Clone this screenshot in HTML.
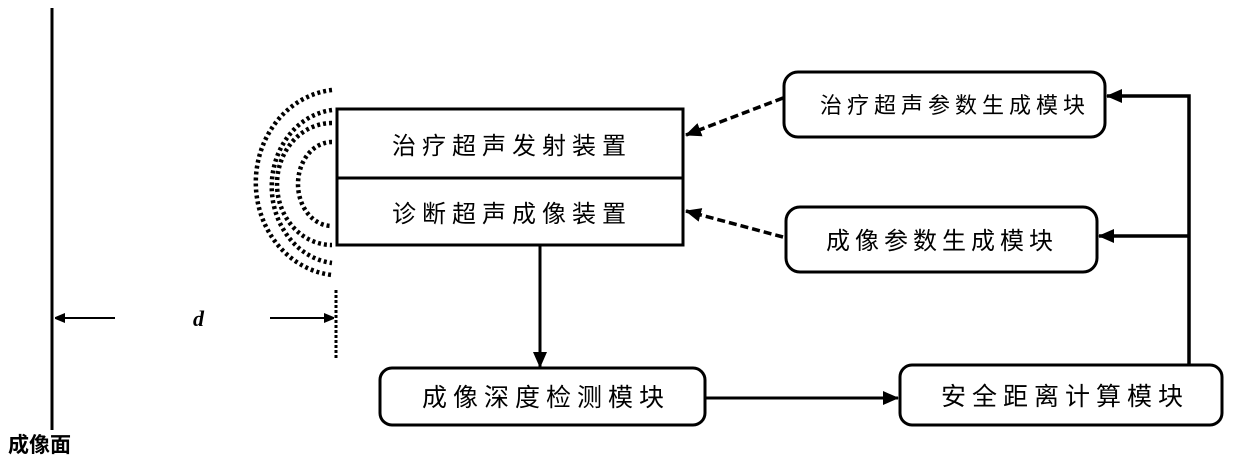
<!DOCTYPE html>
<html><head><meta charset="utf-8"><style>
html,body{margin:0;padding:0;background:#fff;}
svg text{font-family:"Liberation Sans","Noto Sans CJK SC",sans-serif;}
</style></head><body>
<svg width="1240" height="468" viewBox="0 0 1240 468" xmlns="http://www.w3.org/2000/svg">
<defs>
<marker id="ah" markerWidth="10" markerHeight="10" refX="9" refY="5" orient="auto" markerUnits="userSpaceOnUse"><path d="M0,0 L12,5 L0,10 z" fill="#000"/></marker>
<marker id="ah2" markerWidth="16" markerHeight="14" refX="15" refY="7" orient="auto" markerUnits="userSpaceOnUse"><path d="M0,0 L16,7 L0,14 z" fill="#000"/></marker>
</defs>
<line x1="52" y1="8" x2="52" y2="430" stroke="#000" stroke-width="3"/>
<text x="8" y="452" font-size="21" font-weight="bold">成像面</text>
<line x1="115" y1="318" x2="56" y2="318" stroke="#000" stroke-width="2" marker-end="url(#ah)"/>
<line x1="270" y1="318" x2="333" y2="318" stroke="#000" stroke-width="2" marker-end="url(#ah)"/>
<text x="193" y="326" font-size="22" font-style="italic" font-weight="bold" style="font-family:'Liberation Serif',serif">d</text>
<line x1="336" y1="290" x2="336" y2="360" stroke="#000" stroke-width="3" stroke-dasharray="3 2"/>
<g fill="none" stroke="#000" stroke-width="4.5" stroke-dasharray="3 3">
<path d="M332,90 A85,93 0 0 0 332,275"/>
<path d="M332,110 A68,77 0 0 0 332,263"/>
<path d="M332,123 A55,61 0 0 0 332,245"/>
<path d="M332,142 A34,42 0 0 0 332,226"/>
</g>
<rect x="337" y="109" width="346" height="136" fill="#fff" stroke="#000" stroke-width="3"/>
<line x1="337" y1="178" x2="683" y2="178" stroke="#000" stroke-width="3"/>
<text x="512" y="154" font-size="24" letter-spacing="6" text-anchor="middle">治疗超声发射装置</text>
<text x="512" y="222" font-size="24" letter-spacing="6" text-anchor="middle">诊断超声成像装置</text>
<rect x="784" y="72" width="321" height="65" rx="14" fill="#fff" stroke="#000" stroke-width="3"/>
<text x="955" y="113" font-size="22" letter-spacing="5" text-anchor="middle">治疗超声参数生成模块</text>
<rect x="786" y="207" width="311" height="65" rx="14" fill="#fff" stroke="#000" stroke-width="3"/>
<text x="942" y="249" font-size="24" letter-spacing="5" text-anchor="middle">成像参数生成模块</text>
<rect x="380" y="368" width="325" height="57" rx="12" fill="#fff" stroke="#000" stroke-width="3"/>
<text x="546" y="406" font-size="25" letter-spacing="6" text-anchor="middle">成像深度检测模块</text>
<rect x="900" y="365" width="322" height="60" rx="12" fill="#fff" stroke="#000" stroke-width="3"/>
<text x="1065" y="405" font-size="25" letter-spacing="6" text-anchor="middle">安全距离计算模块</text>
<line x1="783" y1="98" x2="686" y2="135" stroke="#000" stroke-width="3.5" stroke-dasharray="8 4" marker-end="url(#ah2)"/>
<line x1="783" y1="237" x2="686" y2="211" stroke="#000" stroke-width="3.5" stroke-dasharray="8 4" marker-end="url(#ah2)"/>
<line x1="540" y1="245" x2="540" y2="367" stroke="#000" stroke-width="3" marker-end="url(#ah2)"/>
<line x1="705" y1="398" x2="898" y2="398" stroke="#000" stroke-width="3" marker-end="url(#ah2)"/>
<polyline points="1189,365 1189,96 1107,96" fill="none" stroke="#000" stroke-width="3.5" marker-end="url(#ah2)"/>
<line x1="1189" y1="236" x2="1099" y2="236" stroke="#000" stroke-width="3.5" marker-end="url(#ah2)"/>
</svg>
</body></html>
